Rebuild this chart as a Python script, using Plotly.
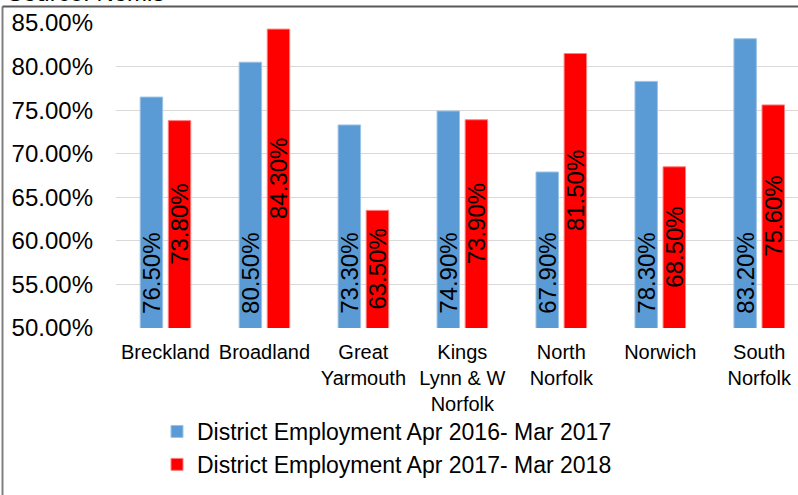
import plotly.graph_objects as go

categories = ["Breckland", "Broadland", "Great<br>Yarmouth", "Kings<br>Lynn & W<br>Norfolk",
              "North<br>Norfolk", "Norwich", "South<br>Norfolk"]
series_2016 = [76.5, 80.5, 73.3, 74.9, 67.9, 78.3, 83.2]
series_2017 = [73.8, 84.3, 63.5, 73.9, 81.5, 68.5, 75.6]
name_2016 = "District Employment Apr 2016- Mar 2017"
name_2017 = "District Employment Apr 2017- Mar 2018"
source_text = "Source: Nomis"
y_min, y_max = 50, 85

FONT = "Liberation Sans, Arial, sans-serif"

# plot-area pixel geometry helpers
PL, PW, PT, PH = 116, 682, 23, 305


def px_x(px):
    return (px - PL) / PW


def px_y(py):
    return (PT + PH - py) / PH


BARGAP, GROUPGAP = 0.432, 0.2
offset = (1 - BARGAP) / 4  # centre of each bar within its group

fig = go.Figure()
fig.add_trace(go.Bar(
    x=categories, y=series_2016, name=name_2016,
    marker=dict(color="#5B9BD5", line=dict(color="#9DC3E6", width=1)),
))
fig.add_trace(go.Bar(
    x=categories, y=series_2017, name=name_2017,
    marker=dict(color="#FF0000", line=dict(color="#FF8080", width=1)),
))

annotations = [dict(text=source_text, xref="paper", yref="paper",
                    x=px_x(5), y=px_y(8), xanchor="left", yanchor="bottom",
                    showarrow=False, font=dict(size=24, family=FONT))]
for i, v in enumerate(series_2016):
    annotations.append(dict(text=f"{v:.2f}%", x=i - offset, y=y_min, xref="x", yref="y",
                            textangle=-90, xanchor="center", yanchor="bottom", yshift=12,
                            showarrow=False, font=dict(size=24, family=FONT, color="black")))
for i, v in enumerate(series_2017):
    annotations.append(dict(text=f"{v:.2f}%", x=i + offset, y=(y_min + v) / 2, xref="x", yref="y",
                            textangle=-90, xanchor="center", yanchor="middle",
                            showarrow=False, font=dict(size=24, family=FONT, color="black")))

fig.update_layout(
    width=798, height=495, autosize=False,
    margin=dict(l=PL, r=0, t=PT, b=495 - PT - PH, pad=0, autoexpand=False),
    paper_bgcolor="white", plot_bgcolor="white",
    font=dict(family=FONT, color="black"),
    barmode="group", bargap=BARGAP, bargroupgap=GROUPGAP,
    showlegend=True,
    legend=dict(xref="container", yref="container", x=157/798, y=1 - 410/495,
                xanchor="left", yanchor="top", font=dict(size=23, family=FONT),
                bgcolor="rgba(0,0,0,0)", traceorder="normal"),
    xaxis=dict(range=[-0.5, 6.392], showgrid=False, showline=False, ticks="",
               tickangle=0, automargin=False, ticklabelstandoff=10,
               tickfont=dict(size=20, family=FONT), fixedrange=True),
    yaxis=dict(range=[y_min, y_max], dtick=5, tick0=50, tickformat=".2f", ticksuffix="%",
               showgrid=True, gridcolor="#D9D9D9", gridwidth=1, zeroline=False,
               showline=False, ticks="", ticklabelstandoff=22, automargin=False,
               tickfont=dict(size=24, family=FONT)),
    annotations=annotations,
    shapes=[
        dict(type="line", xref="paper", yref="paper",
             x0=px_x(2.5), x1=px_x(2.5), y0=px_y(6.5), y1=px_y(500),
             line=dict(color="#808080", width=2), layer="above"),
        dict(type="line", xref="paper", yref="paper",
             x0=px_x(2.5), x1=1.05, y0=px_y(6.5), y1=px_y(6.5),
             line=dict(color="#595959", width=2), layer="above"),
    ],
)

fig.write_html("out.html", config={"displayModeBar": False},
               post_script="document.body.style.margin='0';document.body.style.overflow='hidden';")
